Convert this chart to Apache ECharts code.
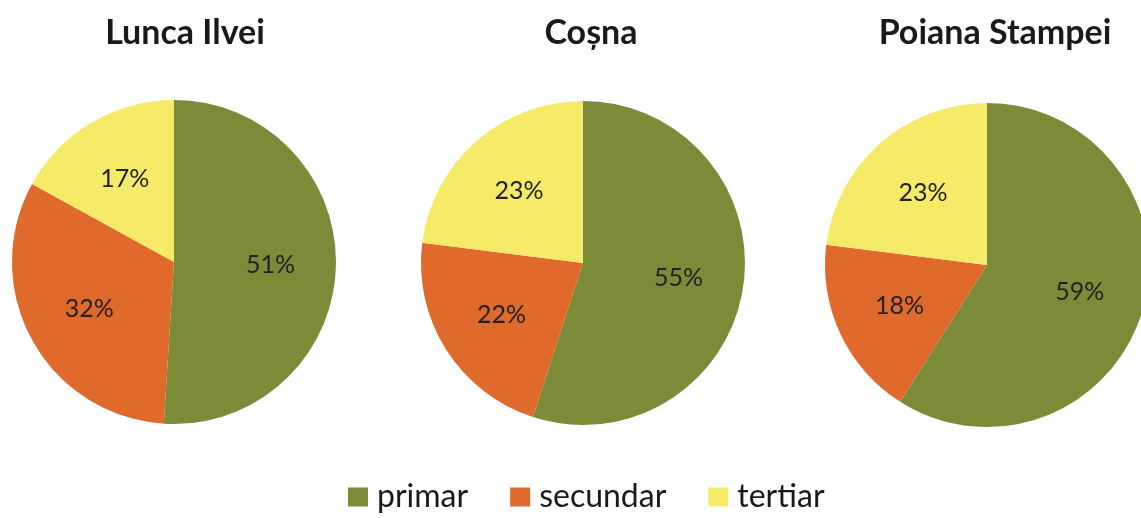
<!DOCTYPE html>
<html>
<head>
<meta charset="utf-8">
<script src="https://cdn.jsdelivr.net/npm/echarts@6/dist/echarts.min.js"></script>
<style>
    html, body { margin: 0; padding: 0; background: #fff; }
    #chart_id { width: 1141px; height: 518px; }
</style>
</head>
<body>
<div id="chart_id"></div>
<script>
//categorii si valori
var categories = ["primar", "secundar", "tertiar"];
var places = ["Lunca Ilvei", "Coșna", "Poiana Stampei"];
var luncaIlvei = [51, 32, 17];
var cosna = [55, 22, 23];
var poianaStampei = [59, 18, 23];
var colors = ["#7B8B38", "#E0692C", "#F5EB69"];

var font = "Lato";
var centers = [[174, 262], [583, 263], [987, 265]];

function buildData(values) {
    var datas = [];
    for (var i = 0, lens = categories.length; i < lens; i++) {
        datas[i] = { name: categories[i], value: values[i] };
    }
    return datas;
}

function pieSeries(index, values) {
    var center = centers[index];
    return {
        name: places[index],
        type: "pie",
        radius: 162,
        center: center,
        startAngle: 90,
        clockwise: true,
        silent: true,
        data: buildData(values),
        label: {
            show: true,
            position: "inside",
            formatter: "{c}%",
            color: "#222",
            fontSize: 25,
            fontFamily: font
        },
        //标签稍微往外推一点，接近原图
        labelLayout: function (params) {
            var r = params.labelRect;
            var lx = r.x + r.width / 2, ly = r.y + r.height / 2;
            return {
                x: center[0] + (lx - center[0]) * 1.15,
                y: center[1] + (ly - center[1]) * 1.15
            };
        },
        labelLine: { show: false },
        emphasis: { disabled: true }
    };
}

var myChart = echarts.init(document.getElementById("chart_id"));
var titleStyle = { fontSize: 34, fontWeight: "bold", color: "#1a1a1a", fontFamily: font };
var option = {
    animation: false,
    color: colors,
    title: [
        { text: places[0], left: 180, top: 11, textAlign: "center", textStyle: titleStyle },
        { text: places[1], left: 586, top: 11, textAlign: "center", textStyle: titleStyle },
        { text: places[2], left: 990, top: 11, textAlign: "center", textStyle: titleStyle }
    ],
    legend: {
        data: categories,
        bottom: 0,
        left: 343,
        icon: "rect",
        itemWidth: 20,
        itemHeight: 19,
        itemGap: 42,
        textStyle: { fontSize: 32, color: "#1a1a1a", fontFamily: font, padding: [0, 0, 0, 4] }
    },
    series: [
        pieSeries(0, luncaIlvei),
        pieSeries(1, cosna),
        pieSeries(2, poianaStampei)
    ]
};
myChart.setOption(option, true);
</script>
</body>
</html>
